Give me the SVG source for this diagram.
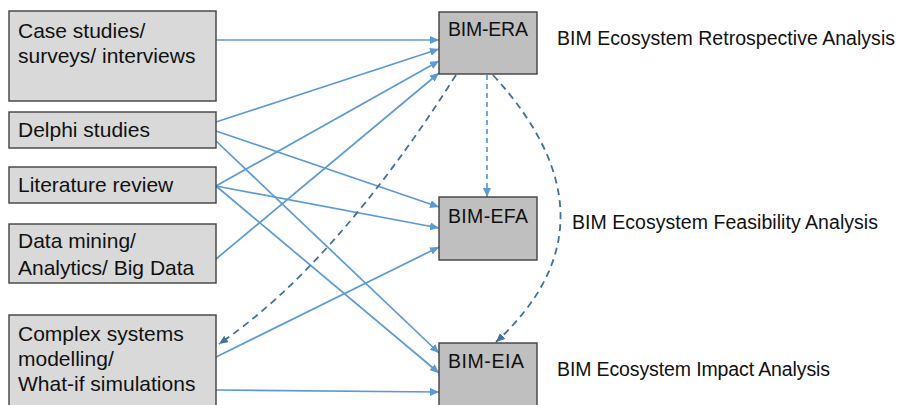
<svg xmlns="http://www.w3.org/2000/svg" width="903" height="405" viewBox="0 0 903 405">
<style>
.src{fill:#d9d9d9;stroke:#404040;stroke-width:1.4}
.tgt{fill:#bfbfbf;stroke:#404040;stroke-width:1.4}
text{font-family:"Liberation Sans",Arial,sans-serif;fill:#111111}
.lt{font-size:21px}
.bt{font-size:19.5px}
.lab{font-size:19.5px}
.sol{fill:none;stroke:#5b9bd5;stroke-width:1.7;marker-end:url(#ah)}
.dl{fill:none;stroke:#5b9bd5;stroke-width:1.7;stroke-dasharray:5 4;marker-end:url(#ah)}
.dd{fill:none;stroke:#41719c;stroke-width:1.8;stroke-dasharray:7 5;marker-end:url(#ahd)}
</style>
<defs>
<marker id="ah" markerUnits="userSpaceOnUse" markerWidth="10" markerHeight="10" refX="9" refY="4" orient="auto"><path d="M0,0 L9,4 L0,8 z" fill="#5b9bd5"/></marker>
<marker id="ahd" markerUnits="userSpaceOnUse" markerWidth="10" markerHeight="10" refX="9" refY="4" orient="auto"><path d="M0,0 L9,4 L0,8 z" fill="#41719c"/></marker>
</defs>
<rect width="903" height="405" fill="#ffffff"/>
<g id="connectors">
<path class="sol" d="M216,40 L439,40"/>
<path class="sol" d="M216,122 L439,49"/>
<path class="sol" d="M216,131 L439,207"/>
<path class="sol" d="M216,141 L439,353"/>
<path class="sol" d="M216,186 L439,61"/>
<path class="sol" d="M216,186 L439,228"/>
<path class="sol" d="M216,186 L439,373"/>
<path class="sol" d="M216,259 L439,73"/>
<path class="sol" d="M216,357 L439,247"/>
<path class="sol" d="M216,390 L439,392"/>
<path class="dl" d="M487,75 L487,197"/>
<path class="dd" d="M456,75 Q335,265 219,344"/>
<path class="dd" d="M493,75 C580,170 585,260 496,342"/>
</g>
<g id="case-studies">
<rect class="src" x="9" y="11" width="207" height="90"/>
<text class="lt" x="18" y="38">Case studies/</text>
<text class="lt" x="18" y="63">surveys/ interviews</text>
</g>
<g id="delphi">
<rect class="src" x="9" y="112" width="207" height="36"/>
<text class="lt" x="18" y="137">Delphi studies</text>
</g>
<g id="literature">
<rect class="src" x="9" y="167" width="207" height="36"/>
<text class="lt" x="18" y="192">Literature review</text>
</g>
<g id="data-mining">
<rect class="src" x="9" y="224" width="207" height="59"/>
<text class="lt" x="18" y="248">Data mining/</text>
<text class="lt" x="18" y="275">Analytics/ Big Data</text>
</g>
<g id="complex-systems">
<rect class="src" x="9" y="315" width="207" height="100"/>
<text class="lt" x="18" y="341">Complex systems</text>
<text class="lt" x="18" y="366">modelling/</text>
<text class="lt" x="18" y="391">What-if simulations</text>
</g>
<g id="bim-era">
<rect class="tgt" x="439" y="12" width="98" height="62"/>
<text class="bt" x="448" y="36" textLength="80">BIM-ERA</text>
</g>
<g id="bim-efa">
<rect class="tgt" x="439" y="197" width="98" height="63"/>
<text class="bt" x="448" y="223" textLength="80">BIM-EFA</text>
</g>
<g id="bim-eia">
<rect class="tgt" x="439" y="343" width="98" height="70"/>
<text class="bt" x="448" y="368" textLength="76">BIM-EIA</text>
</g>
<g id="labels">
<text class="lab" x="557" y="45" textLength="338">BIM Ecosystem Retrospective Analysis</text>
<text class="lab" x="572" y="229" textLength="306">BIM Ecosystem Feasibility Analysis</text>
<text class="lab" x="557" y="376" textLength="273">BIM Ecosystem Impact Analysis</text>
</g>
</svg>
